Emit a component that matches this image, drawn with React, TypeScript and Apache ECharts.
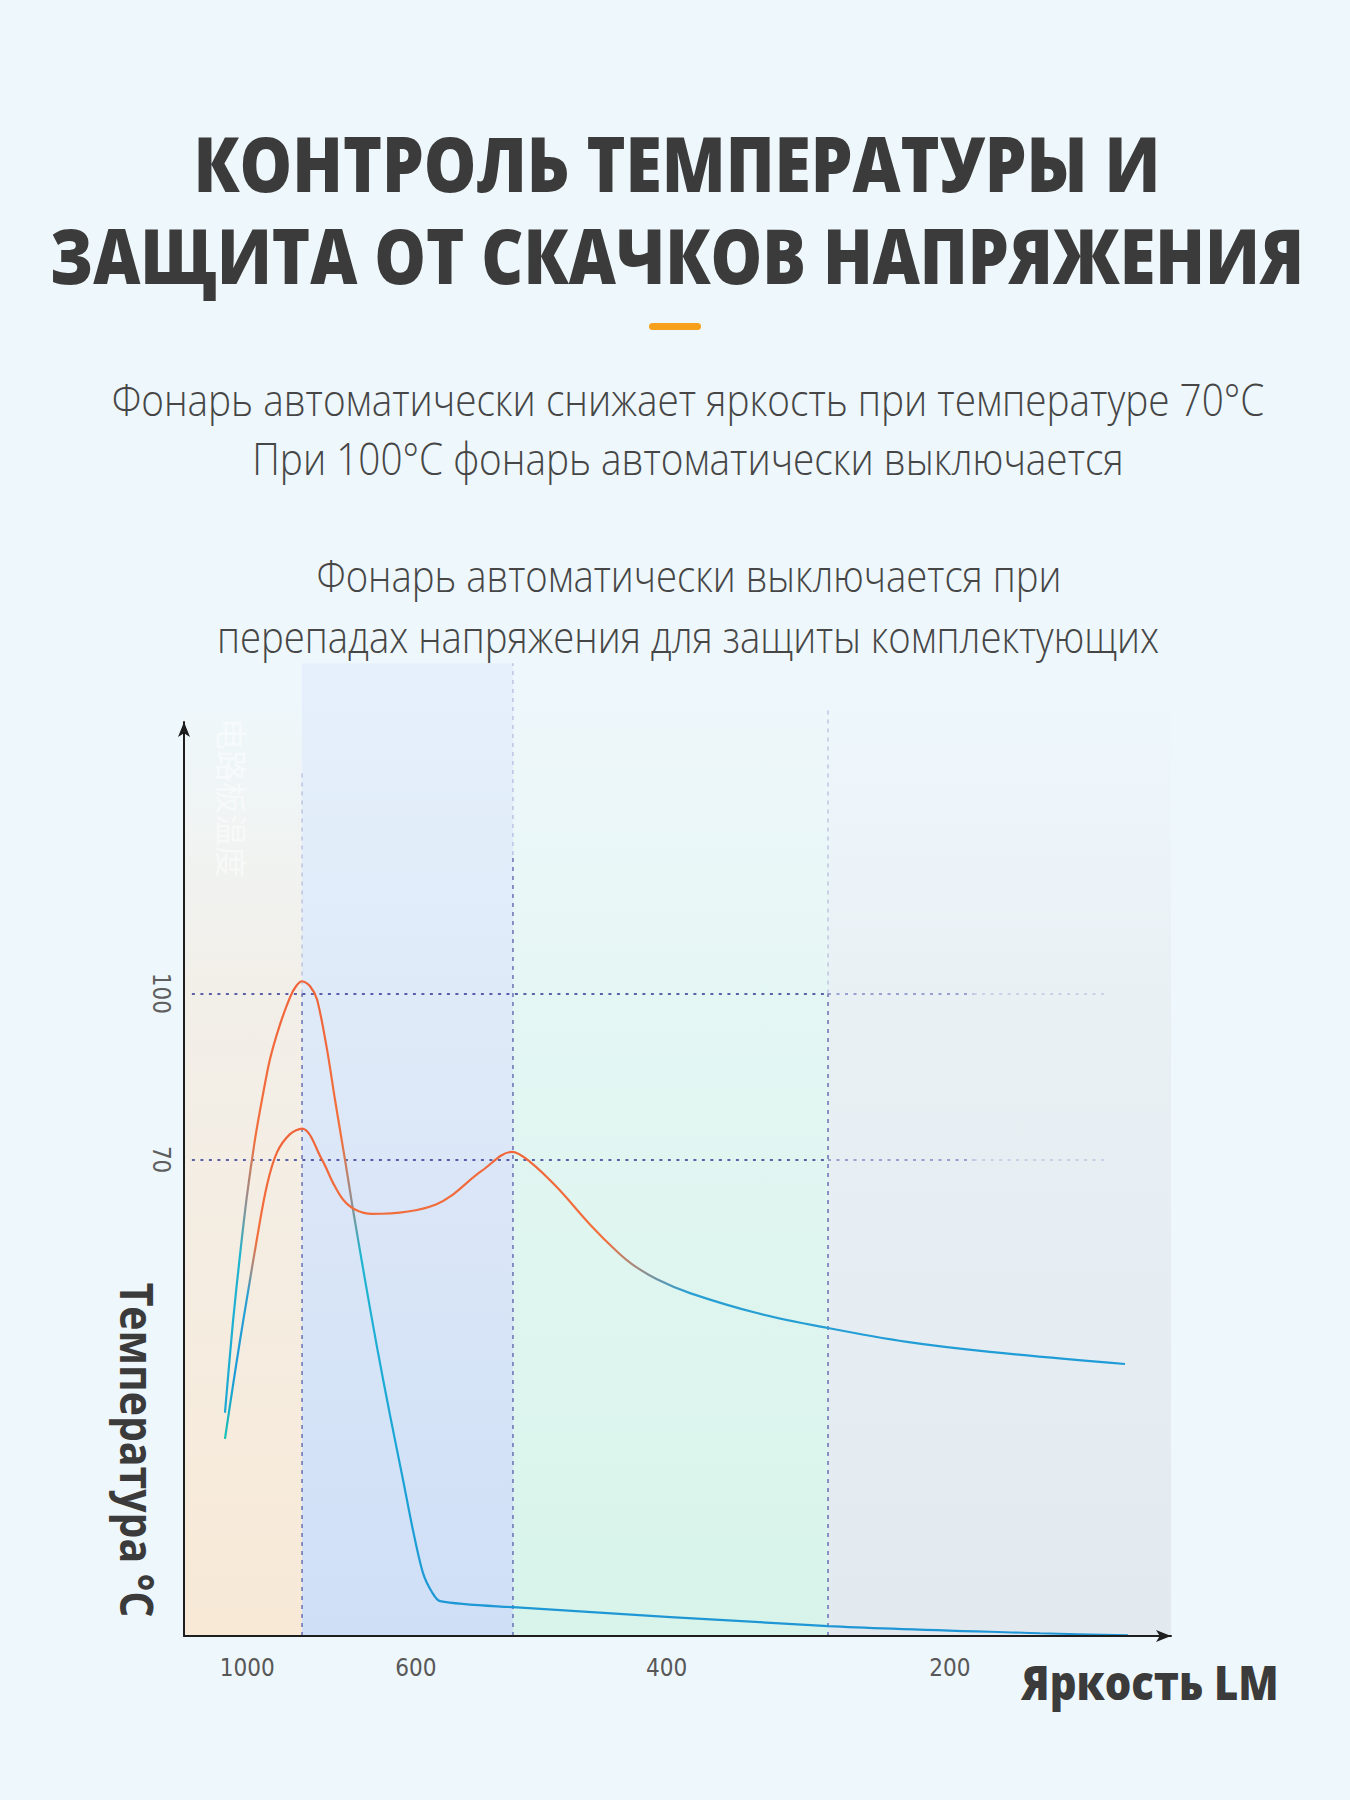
import React, { useEffect, useRef } from 'react';
import * as echarts from 'echarts';

// ---------- texts ----------
const titleLines = ['КОНТРОЛЬ ТЕМПЕРАТУРЫ И', 'ЗАЩИТА ОТ СКАЧКОВ НАПРЯЖЕНИЯ'];
const subtitleLines = [
  'Фонарь автоматически снижает яркость при температуре 70°C',
  'При 100°C фонарь автоматически выключается',
];
const noteLines = [
  'Фонарь автоматически выключается при',
  'перепадах напряжения для защиты комплектующих',
];
const yAxisTitle = 'Температура °C';
const xAxisTitle = 'Яркость LM';
const watermarkText = '电路板温度';

// ---------- axes ----------
// x: position along the brightness stages (0–100), labelled with brightness
const xTickPositions = [6.4, 23.5, 48.9, 77.6];
const xTickLabels = ['1000', '600', '400', '200'];
const yTickValues = [70, 100];
// stage boundaries along x and the height each background band reaches
const stageBounds = [0, 11.96, 33.33, 65.25, 100];
const stageTops = [152, 159.6, 155, 155];
// dashed stage separators: strongly drawn up to, then faint up to
const separatorStrongTop = [100, 125, 100];
const separatorFaintTop = [140, 159.6, 152];

// ---------- series ----------
// Curve that reaches 100°C and shuts off
const shutdownCurve: [number, number][] = [
  [4.15, 24.3], [4.96, 40.7], [5.67, 52.7], [6.38, 63.5], [7.19, 73.6], [7.9, 80.8],
  [8.71, 88.1], [9.73, 94.4], [10.74, 99.3], [11.35, 101.3], [11.96, 102.2],
  [12.77, 101.3], [13.48, 98.9], [14.49, 89.9], [15.3, 80.8],
  [16.31, 70.0], [17.12, 61.0], [18.34, 48.3], [19.55, 36.2], [20.87, 23.9],
  [22.19, 12.2], [23.2, 3.1], [24.21, -4.6], [25.13, -8.1], [25.94, -9.7],
  [33.33, -10.8], [65.25, -14.2], [86.73, -15.5], [95.64, -15.9],
];
// Curve that is throttled at 70°C
const throttleCurve: [number, number][] = [
  [4.15, 19.6], [4.96, 29.2], [5.67, 37.3], [6.38, 45.0], [7.4, 55.8], [8.41, 65.4],
  [9.42, 71.3], [10.74, 74.6], [11.96, 75.6], [13.98, 70.0], [15.1, 65.8], [16.11, 62.8],
  [17.33, 61.0], [19.05, 60.2], [25.53, 61.9], [30.19, 68.0], [33.23, 71.4],
  [35.06, 69.6], [37.79, 65.0], [41.13, 58.3], [43.87, 53.4], [45.49, 51.0],
  [47.92, 48.4], [51.27, 45.9], [58.05, 42.3], [65.25, 39.6], [73.25, 37.1],
  [81.66, 35.3], [95.34, 33.1],
];

const Y_MIN = -16;
const Y_MAX = 149;

const FONT_HEAD = "'Open Sans', 'DejaVu Sans', sans-serif";
const FONT_BODY = "'Open Sans', 'DejaVu Sans', sans-serif";

function vGrad(stops: [number, string][]) {
  return new echarts.graphic.LinearGradient(
    0, 0, 0, 1,
    stops.map(([offset, color]) => ({ offset, color }))
  );
}

const bandFills: [number, string][][] = [
  [[0, 'rgba(244,238,228,0)'], [0.3, 'rgba(243,237,228,0.8)'], [1, 'rgba(248,233,214,1)']],
  [[0, 'rgba(230,240,252,1)'], [0.4, 'rgba(222,233,248,1)'], [1, 'rgba(207,223,246,1)']],
  [[0, 'rgba(232,248,246,0)'], [0.35, 'rgba(226,246,242,0.9)'], [1, 'rgba(216,244,234,1)']],
  [[0, 'rgba(232,240,244,0)'], [0.35, 'rgba(231,239,243,0.9)'], [1, 'rgba(226,234,240,1)']],
];

function buildOption() {
  const bandRows = stageTops.map((top, i) => [stageBounds[i], stageBounds[i + 1], top, i]);

  const dark = { color: '#2a3290', width: 1.6, type: [3, 5.5], opacity: 1 };
  const mid = { color: '#7d86c2', width: 1.6, type: [3, 5.5], opacity: 1 };
  const light = { color: '#c0c6e2', width: 1.6, type: [3, 5.5], opacity: 1 };
  const guideData: any[] = [];
  yTickValues.forEach((v) => {
    guideData.push([{ coord: [0.8, v], lineStyle: dark }, { coord: [stageBounds[3], v] }]);
    guideData.push([{ coord: [stageBounds[3], v], lineStyle: mid }, { coord: [80, v] }]);
    guideData.push([{ coord: [80, v], lineStyle: light }, { coord: [93.2, v] }]);
  });

  const axisLineStyle = { color: '#1e1e1e', width: 2 };

  const graphic: any[] = [];
  const addText = (text: string, x: number, y: number, o: any) => {
    graphic.push({
      type: 'text',
      x, y,
      rotation: o.rotation || 0,
      scaleX: o.scaleX || 1,
      z: o.z || 10,
      silent: true,
      style: {
        text,
        fill: o.fill,
        fontSize: o.fontSize,
        fontWeight: o.fontWeight,
        fontFamily: o.fontFamily,
        align: 'center',
        verticalAlign: 'middle',
        textAlign: 'center',
        textVerticalAlign: 'middle',
        opacity: o.opacity == null ? 1 : o.opacity,
      },
    });
  };
  addText(titleLines[0], 677, 163, { fill: '#3b3b3b', fontSize: 76, fontWeight: 800, fontFamily: FONT_HEAD, scaleX: 0.87 });
  addText(titleLines[1], 677, 254, { fill: '#3b3b3b', fontSize: 76, fontWeight: 800, fontFamily: FONT_HEAD, scaleX: 0.855 });
  graphic.push({
    type: 'rect', x: 649, y: 323, z: 10, silent: true,
    shape: { width: 52, height: 7, r: 3.5 },
    style: { fill: '#f6a01c' },
  });
  const bodyStyle = { fill: '#464646', fontSize: 44, fontWeight: 300, fontFamily: FONT_BODY, scaleX: 0.88 };
  addText(subtitleLines[0], 688, 399, bodyStyle);
  addText(subtitleLines[1], 688, 458, bodyStyle);
  addText(noteLines[0], 689, 575, { ...bodyStyle, scaleX: 0.87 });
  addText(noteLines[1], 688, 636, { ...bodyStyle, scaleX: 0.87 });
  addText(yAxisTitle, 138, 1450, {
    fill: '#3b3b3b', fontSize: 46, fontWeight: 700, fontFamily: FONT_HEAD, scaleX: 0.89, rotation: -Math.PI / 2,
  });
  addText(xAxisTitle, 1150, 1681, {
    fill: '#3b3b3b', fontSize: 48, fontWeight: 800, fontFamily: FONT_HEAD, scaleX: 0.87,
  });
  addText(watermarkText, 233, 798, {
    fill: '#ffffff', opacity: 0.55, fontSize: 32, fontWeight: 400, fontFamily: "'Noto Sans CJK SC', sans-serif",
    rotation: -Math.PI / 2, z: 20,
  });

  return {
    animation: false,
    backgroundColor: '#eef7fb',
    grid: { left: 184, right: 179, top: 722, bottom: 164, containLabel: false },
    xAxis: {
      type: 'value', min: 0, max: 100, z: 5,
      axisLine: { onZero: false, lineStyle: axisLineStyle, symbol: ['none', 'arrow'], symbolSize: [9, 15] },
      axisTick: { show: false },
      splitLine: { show: false },
      axisLabel: {
        customValues: xTickPositions,
        formatter: (v: number) => {
          const i = xTickPositions.findIndex((p) => Math.abs(p - v) < 0.01);
          return i >= 0 ? xTickLabels[i] : '';
        },
        margin: 20, fontSize: 24, color: '#585858', fontFamily: "'DejaVu Sans Condensed', sans-serif",
      },
    },
    yAxis: {
      type: 'value', min: Y_MIN, max: Y_MAX, z: 5,
      axisLine: { onZero: false, lineStyle: axisLineStyle, symbol: ['none', 'arrow'], symbolSize: [9, 15] },
      axisTick: { show: false },
      splitLine: { show: false },
      axisLabel: {
        customValues: yTickValues,
        rotate: -90,
        align: 'center',
        verticalAlign: 'top',
        margin: 11, fontSize: 24, color: '#5e5e5e', fontFamily: "'DejaVu Sans Condensed', sans-serif",
      },
    },
    graphic,
    series: [
      {
        type: 'custom',
        silent: true,
        clip: false,
        z: 0,
        data: bandRows,
        encode: { x: [0, 1], y: 2 },
        renderItem: (params: any, api: any) => {
          const i = api.value(3);
          const x0 = api.value(0);
          const x1 = api.value(1);
          const top = api.value(2);
          const p0 = api.coord([x0, Y_MIN]);
          const p1 = api.coord([x1, top]);
          const children: any[] = [
            {
              type: 'rect',
              shape: { x: p0[0], y: p1[1], width: p1[0] - p0[0], height: p0[1] - p1[1] },
              style: { fill: vGrad(bandFills[i]) },
            },
          ];
          if (i > 0) {
            const s = api.coord([x0, separatorStrongTop[i - 1]]);
            const f = api.coord([x0, separatorFaintTop[i - 1]]);
            children.push({
              type: 'line',
              shape: { x1: p0[0], y1: p0[1], x2: s[0], y2: s[1] },
              style: { stroke: '#5f68ad', lineWidth: 1.4, lineDash: [4, 5] },
            });
            children.push({
              type: 'line',
              shape: { x1: s[0], y1: s[1], x2: f[0], y2: f[1] },
              style: { stroke: '#a9b2d8', lineWidth: 1.4, lineDash: [4, 5], opacity: 0.75 },
            });
          }
          return { type: 'group', children };
        },
      },
      {
        type: 'line', data: [], silent: true,
        markLine: { silent: true, z: 1, symbol: ['none', 'none'], label: { show: false }, data: guideData },
      },
      {
        name: 'shutdown', type: 'line', data: shutdownCurve, smooth: 0.3, showSymbol: false, silent: true, z: 3,
        lineStyle: {
          width: 2.2,
          color: vGrad([[0, '#f0643a'], [0.24, '#f2703e'], [0.33, '#9a8c8a'], [0.42, '#20b5cf'], [0.7, '#1aa6d6'], [1, '#1f95d5']]),
        },
      },
      {
        name: 'throttle', type: 'line', data: throttleCurve, smooth: 0.35, showSymbol: false, silent: true, z: 3,
        lineStyle: {
          width: 2.2,
          color: vGrad([[0, '#f0643a'], [0.36, '#f2703e'], [0.45, '#a08a82'], [0.53, '#2aa0d2'], [0.8, '#1c9bd8'], [1, '#19c2b4']]),
        },
      },
    ],
  };
}

export default function App() {
  const ref = useRef<HTMLDivElement>(null);
  useEffect(() => {
    if (!ref.current) return;
    const chart = echarts.init(ref.current, null, { renderer: 'svg', width: 1350, height: 1800 });
    chart.setOption(buildOption() as any);
    return () => chart.dispose();
  }, []);
  return (
    <div
      ref={ref}
      style={{ position: 'absolute', left: 0, top: 0, width: 1350, height: 1800, background: '#eef7fb' }}
    />
  );
}
